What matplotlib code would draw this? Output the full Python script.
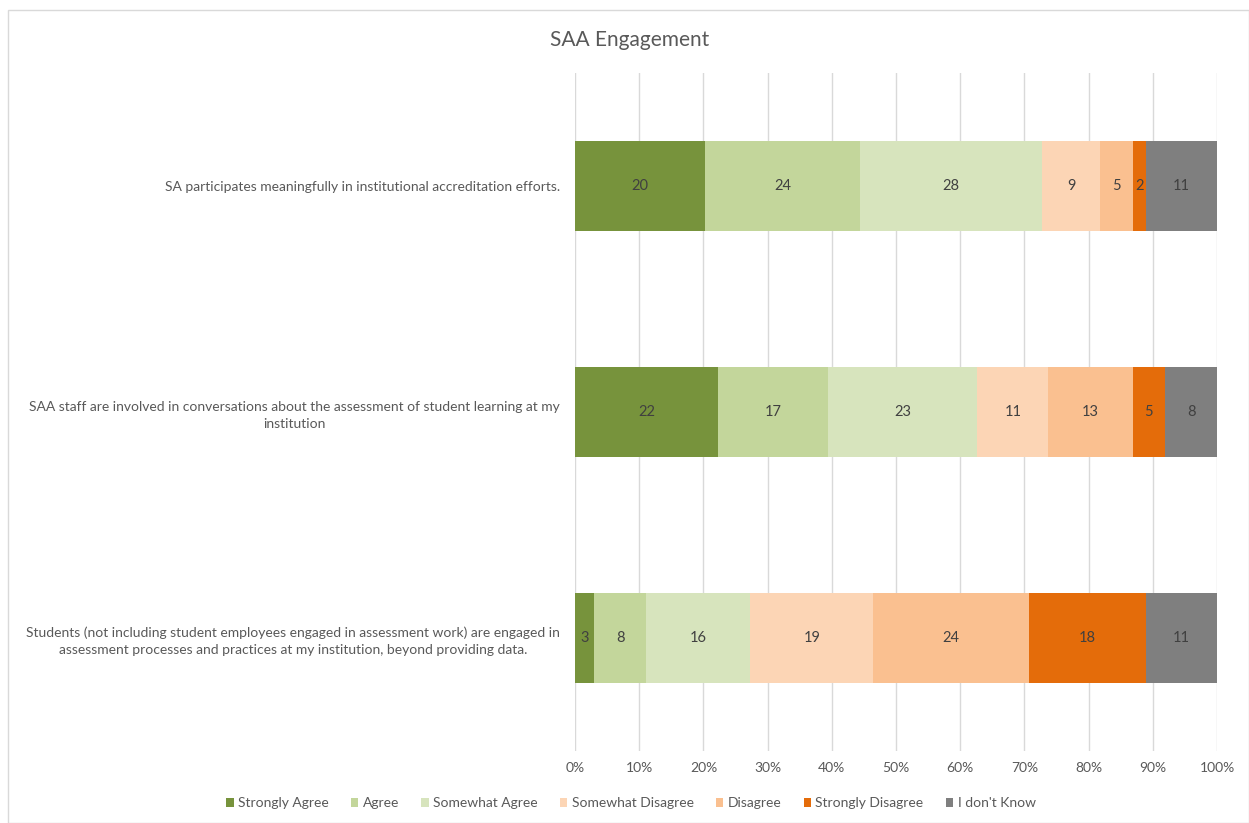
import matplotlib.pyplot as plt
from matplotlib.patches import Rectangle
import numpy as np

plt.rcParams['font.family'] = ['Lato', 'DejaVu Sans']

categories = [
    "SA participates meaningfully in institutional accreditation efforts.",
    "SAA staff are involved in conversations about the assessment of student learning at my\ninstitution",
    "Students (not including student employees engaged in assessment work) are engaged in\nassessment processes and practices at my institution, beyond providing data.",
]
responses = ["Strongly Agree", "Agree", "Somewhat Agree", "Somewhat Disagree",
             "Disagree", "Strongly Disagree", "I don't Know"]
strongly_agree = [20, 22, 3]
agree = [24, 17, 8]
somewhat_agree = [28, 23, 16]
somewhat_disagree = [9, 11, 19]
disagree = [5, 13, 24]
strongly_disagree = [2, 5, 18]
dont_know = [11, 8, 11]
ticks = [0, 10, 20, 30, 40, 50, 60, 70, 80, 90, 100]

colors = ["#77933C", "#C3D69B", "#D7E4BD", "#FCD5B5", "#FAC090", "#E46C0A", "#7F7F7F"]

counts = np.array([strongly_agree, agree, somewhat_agree, somewhat_disagree,
                   disagree, strongly_disagree, dont_know], dtype=float)
shares = counts / counts.sum(axis=0) * 100

fig = plt.figure(figsize=(12.49, 8.23), dpi=100)
ax = fig.add_axes([0.4604, 0.0875, 0.5140, 0.8238])

ypos = np.arange(len(categories))
left = np.zeros(len(categories))
for i, name in enumerate(responses):
    bars = ax.barh(ypos, shares[i], left=left, height=0.4, color=colors[i],
                   label=name, zorder=3)
    ax.bar_label(bars, labels=[str(int(v)) for v in counts[i]], label_type='center',
                 color='#404040', fontsize=10.5)
    left += shares[i]

ax.set_xlim(0, 100)
ax.set_ylim(len(categories) - 0.5, -0.5)
ax.set_xticks(ticks)
ax.set_xticklabels([f"{t}%" for t in ticks])
ax.set_yticks(ypos)
ax.set_yticklabels(categories, ha='right', multialignment='center', linespacing=1.5)
ax.tick_params(axis='both', length=0, labelsize=10, colors='#595959')
ax.tick_params(axis='y', pad=11)
ax.tick_params(axis='x', pad=8)
ax.grid(axis='x', color='#D9D9D9', linewidth=1, zorder=0)
for s in ax.spines.values():
    s.set_visible(False)

fig.text(0.504, 0.951, "SAA Engagement", ha='center', va='center',
         fontsize=15, color='#595959')

ax.legend(loc='center', bbox_to_anchor=(0.505, 0.024), bbox_transform=fig.transFigure,
          ncol=7, frameon=False, fontsize=10, labelcolor='#595959',
          handlelength=0.55, handleheight=0.55, handletextpad=0.3, columnspacing=1.6)

fig.patches.append(Rectangle((8 / 1249, 0), 1 - 8 / 1249, 1 - 10 / 823,
                             transform=fig.transFigure, fill=False,
                             edgecolor='#D9D9D9', linewidth=1))

fig.savefig("out.png", dpi=100)
